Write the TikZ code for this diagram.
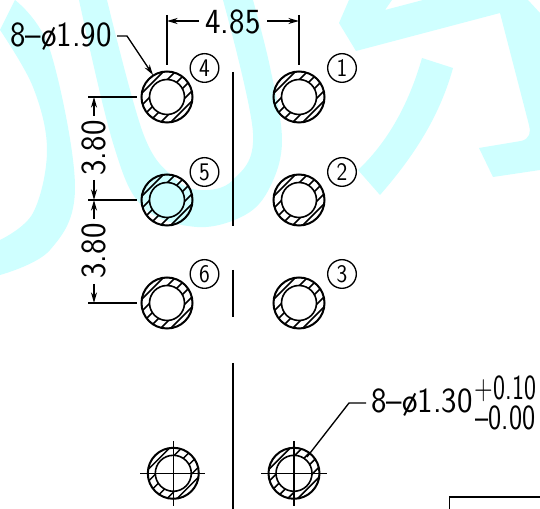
\documentclass[tikz,border=0pt]{standalone}
\usepackage{fontspec}
\usepackage{graphicx}
\usetikzlibrary{arrows.meta}
\definecolor{wmcyan}{HTML}{CFFFFF}
\newcommand\dimtxt[2][.93]{\scalebox{#1}[1]{\fontsize{26.5}{26.5}\selectfont\sffamily #2}}
\newcommand\tagtxt[1]{\scalebox{.9}[1]{\fontsize{19}{19}\selectfont\sffamily #1}}
\tikzset{
  wm/.style={fill=wmcyan,draw=none},
  ring/.style={circle,draw=black,line width=1.5pt,minimum size=38.25pt,inner sep=0pt},
  hatch/.style={line width=1.15pt},
  tag/.style={circle,draw=black,line width=1pt,minimum size=21.5pt,inner sep=0pt},
  dimlabel/.style={inner sep=0pt,text=black},
  tollabel/.style={dimlabel,anchor=base,text height=17pt,text depth=0pt},
  extline/.style={line width=1.15pt},
  centre/.style={line width=1.4pt},
  axisline/.style={line width=1pt},
  dimarrow/.style={line width=1pt,-{Stealth[length=8pt,width=4.5pt]}},
}
\newcommand\hole[5]{% name, x, y, inner r px, hatch offsets
  \begin{scope}[even odd rule]
    \clip (#2,#3) circle[radius=25.5] (#2,#3) circle[radius=#4];
    \foreach \d in {#5} \draw[hatch] ({#2+\d/2+30},{#3+\d/2-30}) -- ({#2+\d/2-30},{#3+\d/2+30});
  \end{scope}
  \node[ring] (#1) at (#2,#3) {};
  \draw[line width=1.2pt] (#2,#3) circle[radius=#4];
}
\begin{document}
\begin{tikzpicture}[x=.75pt,y=-.75pt]
\useasboundingbox (0,0) rectangle (540,509);
\fill[white] (0,0) rectangle (540,509);
% watermark
\fill[wm] plot[smooth,tension=.6] coordinates {(15,0)(50,50)(75,187)(50,250)(0,275)} -- plot[smooth,tension=.6] coordinates {(0,240)(33,213)(47,150)(33,87)(0,30)} -- cycle;
\fill[wm] plot[smooth,tension=.6] coordinates {(79,0)(113,143)(143,207)(197,227)(245,215)(270,187)(282,140)(270,67)(253,0)} -- plot[smooth,tension=.6] coordinates {(223,0)(253,133)(233,180)(200,190)(173,177)(143,133)(107,0)} -- cycle;
\fill[wm] (339,23) -- (349,0) -- (392,0) -- (385,10) -- (423,0) -- (528,0) -- (540,13) -- (540,170) -- (493,177) -- (479,148) -- (521,141) .. controls (530,139) and (531,132) .. (529,125) -- (500,13) -- (356,51) -- cycle;
\fill[wm] (422,58) -- (453,68) .. controls (440,115) and (415,155) .. (380,195) -- (358,170) .. controls (390,140) and (410,100) .. (422,58) -- cycle;
% holes
\hole{h4}{167}{97}{17.5}{-29,-17,-5,7,19,29}
\hole{h1}{299}{97}{17.5}{-29,-17,-5,7,19,29}
\hole{h5}{167}{200}{17.5}{-29,-17,-5,7,19,29}
\hole{h2}{299}{200}{17.5}{-29,-17,-5,7,19,29}
\hole{h6}{167}{303}{17.5}{-29,-17,-5,7,19,29}
\hole{h3}{299}{303}{17.5}{-29,-17,-5,7,19,29}
\hole{h7}{173.3}{473.3}{18}{-29,-17,-5,7,19,29}
\hole{h8}{294}{473.3}{18}{-29,-17,-5,7,19,29}
% centre lines of the bottom holes
\draw[axisline] (140,473.3) -- (205,473.3);
\draw[axisline] (173.3,441) -- (173.3,506);
\draw[axisline] (261,473.3) -- (327,473.3);
\draw[axisline] (294,441) -- (294,506);
% middle axis
\draw[centre] (233,72) -- (233,226);
\draw[centre] (233,270) -- (233,317.5);
\draw[centre] (233,363) -- (233,509);
% circled numbers
\node[tag] (t4) at (204.5,68) {\tagtxt{4}};
\node[tag] (t1) at (342,68) {\tagtxt{1}};
\node[tag] (t5) at (204.5,172) {\tagtxt{5}};
\node[tag] (t2) at (342,172) {\tagtxt{2}};
\node[tag] (t6) at (204.5,274) {\tagtxt{6}};
\node[tag] (t3) at (342,274) {\tagtxt{3}};
% dimension 4.85
\node[dimlabel] (d485) at (233,22) {\dimtxt{4.85}};
\coordinate (e4t) at (167,15); \coordinate (e4b) at (167,65);
\coordinate (e1t) at (299,15); \coordinate (e1b) at (299,65);
\coordinate (a4) at (167,21); \coordinate (a1) at (299,21);
\coordinate (a4s) at (199,21); \coordinate (a1s) at (267,21);
\draw[extline] (e4t) -- (e4b);
\draw[extline] (e1t) -- (e1b);
\draw[dimarrow] (a4s) -- (a4);
\draw[dimarrow] (a1s) -- (a1);
% dimensions 3.80
\coordinate (l1a) at (88,97); \coordinate (l1b) at (137,97);
\coordinate (l2a) at (88,200); \coordinate (l2b) at (137,200);
\coordinate (l3a) at (88,303); \coordinate (l3b) at (137,303);
\draw[extline] (l1a) -- (l1b);
\draw[extline] (l2a) -- (l2b);
\draw[extline] (l3a) -- (l3b);
\node[dimlabel,rotate=90] (d380a) at (94,148) {\dimtxt{3.80}};
\node[dimlabel,rotate=90] (d380b) at (94,251) {\dimtxt{3.80}};
\draw[dimarrow] (94,116) -- (94,97);
\draw[dimarrow] (94,180) -- (94,200);
\draw[dimarrow] (94,219) -- (94,200);
\draw[dimarrow] (94,284) -- (94,303);
% leader 8-ø1.90
\node[dimlabel] (d190) at (61,37) {\dimtxt{8–ø1.90}};
\coordinate (ld1) at (117,36); \coordinate (ld1b) at (127,36); \coordinate (ld1c) at (153,75);
\draw[dimarrow] (ld1) -- (ld1b) -- (ld1c);
% leader 8-ø1.30
\node[dimlabel] (d130) at (422,403) {\dimtxt{8–ø1.30}};
\node[tollabel] (tolp) at (505.5,399.5) {\dimtxt[.72]{+0.10}};
\node[tollabel] (tolm) at (505.5,429.5) {\dimtxt[.79]{–0.00}};
\coordinate (ld2) at (307,457); \coordinate (ld2b) at (349,403); \coordinate (ld2c) at (366,403);
\draw[line width=1pt] (ld2) -- (ld2b) -- (ld2c);
% corner of title frame
\coordinate (fa) at (449.5,509); \coordinate (fb) at (449.5,497); \coordinate (fc) at (540,497);
\draw[line width=1pt] (fa) -- (fb) -- (fc);
\end{tikzpicture}
\end{document}
